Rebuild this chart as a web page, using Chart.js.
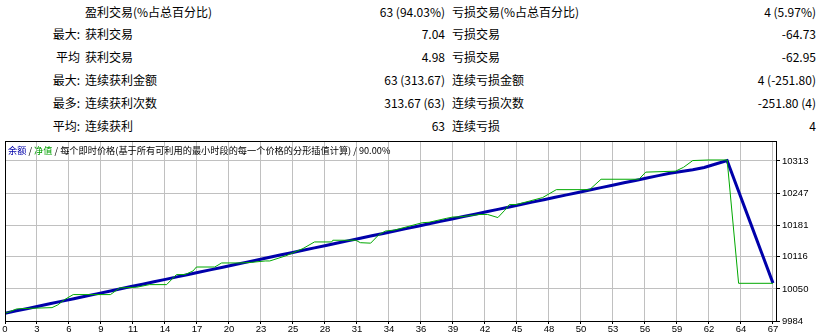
<!DOCTYPE html>
<html>
<head>
<meta charset="utf-8">
<script src="https://cdn.jsdelivr.net/npm/chart.js@4.4.1/dist/chart.umd.min.js"></script>
<style>
  body { margin: 0; background: #fff; width: 827px; height: 336px; overflow: hidden; position: relative; }
  #chart { position: absolute; left: 0; top: 0; }
  .cell { position: absolute; font: 12px "Noto Sans CJK SC", sans-serif; line-height: 16px; color: #000; white-space: nowrap; }
  .r { text-align: right; }
  #legend { position: absolute; left: 8px; top: 144px; font: 9.2px "Noto Sans CJK SC", sans-serif; line-height: 12px; color: #000; white-space: nowrap; }
</style>
</head>
<body>
<div id="stats"></div>
<canvas id="chart" width="827" height="336"></canvas>
<div id="legend"><span style="color:#0000aa">余额</span> / <span style="color:#00a000">净值</span> / 每个即时价格(基于所有可利用的最小时段的每一个价格的分形插值计算) / 90.00%</div>
<script>
// report rows
const rowPrefix = ['', '最大:', '平均', '最大:', '最多:', '平均:'];
const winLabels = ['盈利交易(%占总百分比)', '获利交易', '获利交易', '连续获利金额', '连续获利次数', '连续获利'];
const winValues = ['63 (94.03%)', '7.04', '4.98', '63 (313.67)', '313.67 (63)', '63'];
const lossLabels = ['亏损交易(%占总百分比)', '亏损交易', '亏损交易', '连续亏损金额', '连续亏损次数', '连续亏损'];
const lossValues = ['4 (5.97%)', '-64.73', '-62.95', '4 (-251.80)', '-251.80 (4)', '4'];

// balance after each trade (0..67)
const balance = [
  10000.0, 10004.9, 10009.8, 10014.9, 10019.8, 10024.9, 10029.9, 10034.8, 10039.8, 10044.7,
  10049.8, 10054.8, 10059.7, 10064.7, 10069.6, 10074.7, 10079.6, 10084.6, 10089.6, 10094.5,
  10099.6, 10104.5, 10109.5, 10114.4, 10119.5, 10124.4, 10129.4, 10134.3, 10139.3, 10144.2,
  10149.2, 10154.1, 10159.1, 10164.0, 10169.0, 10173.9, 10178.9, 10183.8, 10188.8, 10193.7,
  10198.7, 10203.6, 10208.6, 10213.5, 10218.5, 10223.4, 10228.4, 10233.3, 10238.3, 10243.2,
  10248.2, 10253.1, 10258.1, 10263.0, 10268.0, 10272.9, 10277.9, 10282.8, 10287.6, 10291.4,
  10295.0, 10299.5, 10306.6, 10313.67, 10250.72, 10187.77, 10124.82, 10061.87
];

// equity, sampled between trades
const equityX = [0, 0.4, 1.0, 1.5, 4.1, 4.6, 5.2, 5.95, 9.2, 10.0, 11.5, 12.6, 14.1, 14.96, 15.7, 16.4,
  16.7, 18.3, 18.9, 20.5, 21.5, 22.7, 23.1, 24.5, 26.0, 27.0, 28.5, 28.6, 30.6, 31.0, 31.9, 32.6,
  33.2, 34.0, 36.4, 37.0, 38.5, 39.1, 39.6, 41.4, 42.1, 43.0, 43.6, 44.0, 44.6, 46.9, 48.1, 51.0,
  52.0, 55.3, 55.9, 58.5, 59.2, 60.0, 61.4, 63.0, 64.0, 67.0];
const equityY = [10000, 10003, 10008.7, 10009.5, 10011.5, 10017, 10028, 10038.3, 10038.3, 10052, 10053.5, 10058.8, 10058.8, 10079.4, 10079.4, 10086.8,
  10095, 10095, 10103.3, 10103.3, 10104.5, 10107.4, 10107.4, 10118, 10133, 10146.5, 10146.5, 10150, 10150, 10145, 10144, 10161,
  10169, 10171, 10186, 10187, 10195, 10197.9, 10197.9, 10203, 10203, 10196.6, 10211.6, 10223.3, 10223.3, 10237.7, 10254, 10254,
  10275.4, 10275.4, 10290, 10292, 10300, 10313.8, 10315, 10315, 10061.5, 10061.5];

const xTickLabels = ['0', '3', '6', '9', '11', '14', '17', '20', '23', '25', '28', '31', '34', '36', '39', '42', '45', '48', '50', '53', '56', '59', '62', '64', '67'];
const yTickLabels = [9984, 10050, 10116, 10181, 10247, 10313];

// build the report text
const stats = document.getElementById('stats');
const rowTop = [4, 26, 49, 72, 95, 118];
rowTop.forEach((top, i) => {
  stats.innerHTML +=
    `<div class="cell r" style="top:${top}px;right:${827 - 80}px">${rowPrefix[i]}</div>` +
    `<div class="cell" style="top:${top}px;left:85px">${winLabels[i]}</div>` +
    `<div class="cell r" style="top:${top}px;right:${827 - 445}px">${winValues[i]}</div>` +
    `<div class="cell" style="top:${top}px;left:452px">${lossLabels[i]}</div>` +
    `<div class="cell r" style="top:${top}px;right:${827 - 816}px">${lossValues[i]}</div>`;
});

const lastTrade = balance.length - 1;
const tickFont = { family: 'Liberation Sans', size: 9.5 };

const framePlugin = {
  id: 'frame',
  afterDraw(chart) {
    const a = chart.chartArea, ctx = chart.ctx;
    ctx.save();
    ctx.strokeStyle = '#000';
    ctx.lineWidth = 1;
    ctx.strokeRect(a.left + 0.5, a.top + 0.5, a.right - a.left - 1, a.bottom - a.top);
    ctx.restore();
  }
};

const ctx = document.getElementById('chart').getContext('2d');
new Chart(ctx, {
  type: 'line',
  data: {
    datasets: [
      {
        label: '净值',
        data: equityX.map((x, i) => ({ x, y: equityY[i] })),
        borderColor: '#00a800',
        borderWidth: 1,
        pointRadius: 0,
        tension: 0
      },
      {
        label: '余额',
        data: balance.map((y, i) => ({ x: i, y })),
        borderColor: '#0000aa',
        borderWidth: 3,
        pointRadius: 0,
        tension: 0
      }
    ]
  },
  options: {
    responsive: false,
    animation: false,
    devicePixelRatio: 1,
    layout: { padding: { top: 141, left: 5, right: 0, bottom: 0 } },
    plugins: { legend: { display: false }, tooltip: { enabled: false } },
    scales: {
      x: {
        type: 'linear',
        min: 0,
        max: lastTrade + 0.35,
        border: { display: false },
        grid: { color: '#c0c0c0', borderDash: [4, 3], tickLength: 3, tickColor: '#000', tickBorderDash: [] },
        ticks: {
          autoSkip: false, maxRotation: 0, padding: 0, color: '#000', font: tickFont,
          callback: (v, i) => xTickLabels[i]
        },
        afterBuildTicks: s => { s.ticks = xTickLabels.map((_, i) => ({ value: i * lastTrade / (xTickLabels.length - 1) })); },
        afterFit: s => { s.height = 15; }
      },
      y: {
        position: 'right',
        min: 9984,
        max: 10354,
        border: { display: false },
        grid: { color: '#c0c0c0', borderDash: [4, 3], tickLength: 3, tickColor: '#000', tickBorderDash: [] },
        ticks: {
          autoSkip: false, padding: 2, color: '#000', font: tickFont,
          callback: v => String(v)
        },
        afterBuildTicks: s => { s.ticks = yTickLabels.map(v => ({ value: v })); },
        afterFit: s => { s.width = 50; }
      }
    }
  },
  plugins: [framePlugin]
});
</script>
</body>
</html>
